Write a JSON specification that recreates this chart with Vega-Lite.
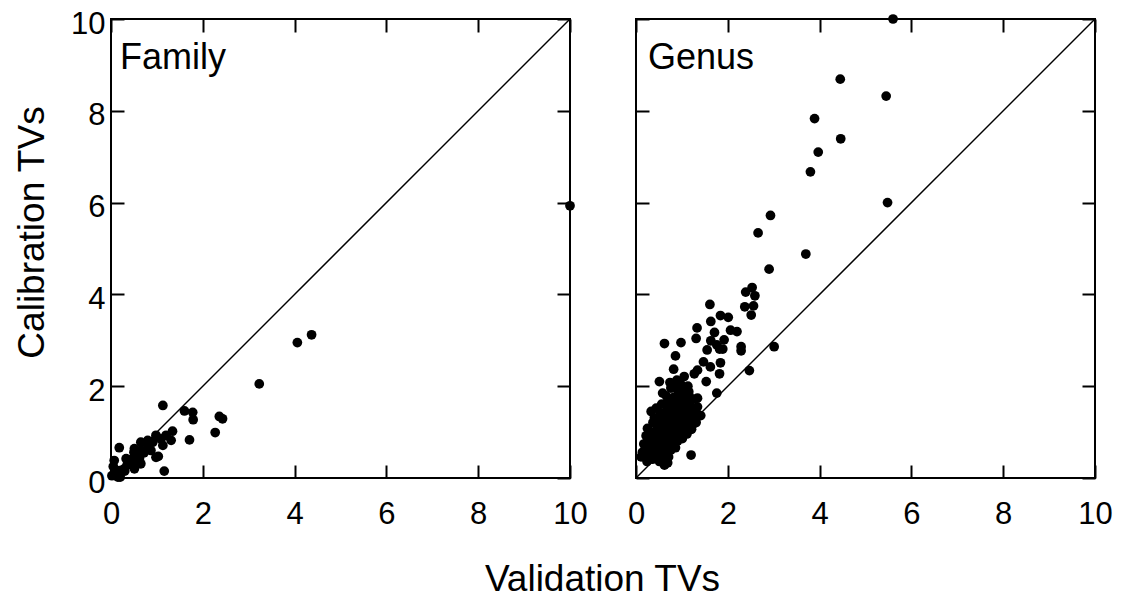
{
  "$schema": "https://vega.github.io/schema/vega-lite/v6.json",
  "autosize": {"type": "pad"},
  "padding": {"left": 12, "top": 7, "right": 0, "bottom": 0},
  "bounds": "flush",
  "spacing": 66,
  "background": "white",
  "config": {
    "font": "Liberation Sans",
    "view": {"stroke": "black", "strokeWidth": 2},
    "axis": {
      "grid": false,
      "domain": false,
      "ticks": true,
      "tickSize": -13,
      "tickWidth": 2,
      "tickColor": "black",
      "labelColor": "black",
      "labelFont": "Liberation Sans",
      "labelFontSize": 31,
      "labelFlush": false,
      "labelOverlap": false,
      "titleFont": "Liberation Sans",
      "titleFontSize": 37,
      "titleFontWeight": "normal",
      "titleColor": "black"
    }
  },
  "datasets": {
    "family": [
      {"validation": 0.02, "calibration": 0.05},
      {"validation": 0.05, "calibration": 0.25},
      {"validation": 0.07, "calibration": 0.38},
      {"validation": 0.2, "calibration": 0.02},
      {"validation": 0.18, "calibration": 0.16},
      {"validation": 0.11, "calibration": 0.16},
      {"validation": 0.15, "calibration": 0.02},
      {"validation": 0.18, "calibration": 0.66},
      {"validation": 0.29, "calibration": 0.2},
      {"validation": 0.3, "calibration": 0.15},
      {"validation": 0.33, "calibration": 0.42},
      {"validation": 0.35, "calibration": 0.28},
      {"validation": 0.44, "calibration": 0.31},
      {"validation": 0.47, "calibration": 0.42},
      {"validation": 0.5, "calibration": 0.56},
      {"validation": 0.51, "calibration": 0.2},
      {"validation": 0.51, "calibration": 0.64},
      {"validation": 0.58, "calibration": 0.31},
      {"validation": 0.62, "calibration": 0.42},
      {"validation": 0.62, "calibration": 0.5},
      {"validation": 0.65, "calibration": 0.31},
      {"validation": 0.65, "calibration": 0.6},
      {"validation": 0.65, "calibration": 0.78},
      {"validation": 0.72, "calibration": 0.55},
      {"validation": 0.8, "calibration": 0.71},
      {"validation": 0.8, "calibration": 0.82},
      {"validation": 0.87, "calibration": 0.6},
      {"validation": 0.91, "calibration": 0.78},
      {"validation": 0.98, "calibration": 0.45},
      {"validation": 0.98, "calibration": 0.93},
      {"validation": 1.03, "calibration": 0.47},
      {"validation": 1.09, "calibration": 0.85},
      {"validation": 1.13, "calibration": 0.71},
      {"validation": 1.16, "calibration": 0.15},
      {"validation": 1.13, "calibration": 1.58},
      {"validation": 1.2, "calibration": 0.93},
      {"validation": 1.31, "calibration": 0.82},
      {"validation": 1.34, "calibration": 1.02},
      {"validation": 1.6, "calibration": 1.46},
      {"validation": 1.71, "calibration": 0.83},
      {"validation": 1.78, "calibration": 1.43},
      {"validation": 1.79, "calibration": 1.27},
      {"validation": 2.27, "calibration": 0.99},
      {"validation": 2.36, "calibration": 1.34},
      {"validation": 2.43, "calibration": 1.29},
      {"validation": 3.23, "calibration": 2.05},
      {"validation": 4.06, "calibration": 2.95},
      {"validation": 4.37, "calibration": 3.12},
      {"validation": 10.0, "calibration": 5.93}
    ],
    "genus": [
      {"validation": 5.6, "calibration": 10.0},
      {"validation": 4.45, "calibration": 8.69},
      {"validation": 5.45, "calibration": 8.32},
      {"validation": 3.89, "calibration": 7.83},
      {"validation": 4.46, "calibration": 7.39},
      {"validation": 3.97, "calibration": 7.1},
      {"validation": 3.8, "calibration": 6.67},
      {"validation": 5.48, "calibration": 6.0},
      {"validation": 2.93, "calibration": 5.72},
      {"validation": 2.66, "calibration": 5.34},
      {"validation": 3.7, "calibration": 4.88},
      {"validation": 2.9, "calibration": 4.55},
      {"validation": 2.53, "calibration": 4.15},
      {"validation": 2.39, "calibration": 4.05},
      {"validation": 2.59, "calibration": 3.97},
      {"validation": 2.37, "calibration": 3.73},
      {"validation": 2.56, "calibration": 3.75},
      {"validation": 2.51, "calibration": 3.55},
      {"validation": 1.61, "calibration": 3.78},
      {"validation": 1.84, "calibration": 3.54},
      {"validation": 2.01, "calibration": 3.5},
      {"validation": 1.63, "calibration": 3.41},
      {"validation": 1.33, "calibration": 3.27},
      {"validation": 2.06, "calibration": 3.22},
      {"validation": 2.2, "calibration": 3.19},
      {"validation": 1.71, "calibration": 3.17},
      {"validation": 1.31, "calibration": 3.04},
      {"validation": 1.63, "calibration": 2.99},
      {"validation": 1.92, "calibration": 3.01},
      {"validation": 0.62, "calibration": 2.93},
      {"validation": 0.98, "calibration": 2.95},
      {"validation": 1.76, "calibration": 2.9},
      {"validation": 1.82, "calibration": 2.81},
      {"validation": 1.89, "calibration": 2.81},
      {"validation": 1.55, "calibration": 2.79},
      {"validation": 2.29, "calibration": 2.86},
      {"validation": 2.29, "calibration": 2.77},
      {"validation": 3.01, "calibration": 2.86},
      {"validation": 0.86, "calibration": 2.66},
      {"validation": 1.47, "calibration": 2.53},
      {"validation": 1.62, "calibration": 2.42},
      {"validation": 1.84, "calibration": 2.51},
      {"validation": 1.34, "calibration": 2.35},
      {"validation": 1.27, "calibration": 2.27},
      {"validation": 1.82, "calibration": 2.27},
      {"validation": 0.82, "calibration": 2.37},
      {"validation": 2.47, "calibration": 2.34},
      {"validation": 1.05, "calibration": 2.21},
      {"validation": 0.89, "calibration": 2.13},
      {"validation": 0.51, "calibration": 2.1},
      {"validation": 1.53, "calibration": 2.1},
      {"validation": 1.13, "calibration": 2.0},
      {"validation": 0.91, "calibration": 1.93},
      {"validation": 1.76, "calibration": 1.85},
      {"validation": 1.16, "calibration": 1.77},
      {"validation": 1.34, "calibration": 1.74},
      {"validation": 0.83, "calibration": 1.7},
      {"validation": 0.44, "calibration": 1.52},
      {"validation": 1.34, "calibration": 1.55},
      {"validation": 1.27, "calibration": 1.19},
      {"validation": 1.2, "calibration": 0.5},
      {"validation": 0.11, "calibration": 0.46},
      {"validation": 0.62, "calibration": 0.28},
      {"validation": 0.14, "calibration": 0.56},
      {"validation": 0.17, "calibration": 0.74},
      {"validation": 0.21, "calibration": 0.46},
      {"validation": 0.22, "calibration": 0.92},
      {"validation": 0.26, "calibration": 0.62},
      {"validation": 0.25, "calibration": 1.08},
      {"validation": 0.27, "calibration": 0.81},
      {"validation": 0.31, "calibration": 0.52},
      {"validation": 0.32, "calibration": 0.71},
      {"validation": 0.3, "calibration": 0.97},
      {"validation": 0.36, "calibration": 0.41},
      {"validation": 0.35, "calibration": 0.86},
      {"validation": 0.37, "calibration": 1.21},
      {"validation": 0.41, "calibration": 0.57},
      {"validation": 0.39, "calibration": 0.76},
      {"validation": 0.42, "calibration": 1.02},
      {"validation": 0.4, "calibration": 1.31},
      {"validation": 0.46, "calibration": 0.45},
      {"validation": 0.44, "calibration": 0.66},
      {"validation": 0.47, "calibration": 0.91},
      {"validation": 0.45, "calibration": 1.16},
      {"validation": 0.51, "calibration": 0.36},
      {"validation": 0.49, "calibration": 0.61},
      {"validation": 0.52, "calibration": 0.82},
      {"validation": 0.5, "calibration": 1.06},
      {"validation": 0.53, "calibration": 1.42},
      {"validation": 0.56, "calibration": 0.51},
      {"validation": 0.54, "calibration": 0.72},
      {"validation": 0.57, "calibration": 0.96},
      {"validation": 0.55, "calibration": 1.19},
      {"validation": 0.56, "calibration": 1.61},
      {"validation": 0.61, "calibration": 0.41},
      {"validation": 0.59, "calibration": 0.66},
      {"validation": 0.62, "calibration": 0.86},
      {"validation": 0.6, "calibration": 1.12},
      {"validation": 0.63, "calibration": 1.36},
      {"validation": 0.66, "calibration": 0.56},
      {"validation": 0.64, "calibration": 0.77},
      {"validation": 0.67, "calibration": 1.01},
      {"validation": 0.65, "calibration": 1.26},
      {"validation": 0.68, "calibration": 1.51},
      {"validation": 0.66, "calibration": 1.79},
      {"validation": 0.71, "calibration": 0.46},
      {"validation": 0.69, "calibration": 0.71},
      {"validation": 0.72, "calibration": 0.91},
      {"validation": 0.7, "calibration": 1.16},
      {"validation": 0.73, "calibration": 1.41},
      {"validation": 0.71, "calibration": 1.66},
      {"validation": 0.76, "calibration": 0.61},
      {"validation": 0.74, "calibration": 0.81},
      {"validation": 0.77, "calibration": 1.06},
      {"validation": 0.75, "calibration": 1.31},
      {"validation": 0.78, "calibration": 1.56},
      {"validation": 0.76, "calibration": 1.96},
      {"validation": 0.81, "calibration": 0.72},
      {"validation": 0.79, "calibration": 0.96},
      {"validation": 0.82, "calibration": 1.21},
      {"validation": 0.8, "calibration": 1.46},
      {"validation": 0.83, "calibration": 1.76},
      {"validation": 0.86, "calibration": 0.66},
      {"validation": 0.84, "calibration": 0.86},
      {"validation": 0.87, "calibration": 1.11},
      {"validation": 0.85, "calibration": 1.36},
      {"validation": 0.88, "calibration": 1.61},
      {"validation": 0.86, "calibration": 2.01},
      {"validation": 0.91, "calibration": 0.81},
      {"validation": 0.89, "calibration": 1.01},
      {"validation": 0.92, "calibration": 1.26},
      {"validation": 0.9, "calibration": 1.51},
      {"validation": 0.93, "calibration": 1.86},
      {"validation": 0.96, "calibration": 0.91},
      {"validation": 0.94, "calibration": 1.16},
      {"validation": 0.97, "calibration": 1.41},
      {"validation": 0.95, "calibration": 1.71},
      {"validation": 1.01, "calibration": 0.86},
      {"validation": 0.99, "calibration": 1.06},
      {"validation": 1.02, "calibration": 1.31},
      {"validation": 1.0, "calibration": 1.61},
      {"validation": 1.03, "calibration": 1.96},
      {"validation": 1.06, "calibration": 1.01},
      {"validation": 1.04, "calibration": 1.21},
      {"validation": 1.07, "calibration": 1.51},
      {"validation": 1.05, "calibration": 1.81},
      {"validation": 1.11, "calibration": 0.96},
      {"validation": 1.09, "calibration": 1.16},
      {"validation": 1.12, "calibration": 1.41},
      {"validation": 1.1, "calibration": 1.71},
      {"validation": 1.16, "calibration": 1.11},
      {"validation": 1.14, "calibration": 1.31},
      {"validation": 1.17, "calibration": 1.61},
      {"validation": 1.21, "calibration": 1.06},
      {"validation": 1.19, "calibration": 1.26},
      {"validation": 1.22, "calibration": 1.51},
      {"validation": 1.31, "calibration": 1.21},
      {"validation": 1.29, "calibration": 1.41},
      {"validation": 1.41, "calibration": 1.36},
      {"validation": 0.24, "calibration": 0.36},
      {"validation": 0.33, "calibration": 1.45},
      {"validation": 0.58, "calibration": 1.85},
      {"validation": 0.74, "calibration": 2.08},
      {"validation": 1.15, "calibration": 1.88},
      {"validation": 1.25, "calibration": 1.72},
      {"validation": 0.48, "calibration": 1.3},
      {"validation": 0.69, "calibration": 0.33},
      {"validation": 0.97, "calibration": 2.05}
    ],
    "diag": [
      {"x0": 0, "y0": 0, "x1": 10, "y1": 10}
    ]
  },
  "hconcat": [
    {
      "width": 459,
      "height": 459,
      "layer": [
        {
          "data": {"name": "family"},
          "mark": {"type": "circle", "size": 95, "color": "black", "opacity": 1},
          "encoding": {
            "x": {"field": "validation", "type": "quantitative", "scale": {"domain": [0, 10], "nice": false},
                  "axis": {"orient": "bottom", "values": [0, 2, 4, 6, 8, 10], "title": "Validation TVs", "titleX": 491, "titleY": 112, "titleBaseline": "alphabetic", "labelPadding": 34}},
            "y": {"field": "calibration", "type": "quantitative", "scale": {"domain": [0, 10], "nice": false},
                  "axis": {"orient": "left", "values": [0, 2, 4, 6, 8, 10], "title": "Calibration TVs", "titleX": -68, "titleY": 213, "titleBaseline": "alphabetic", "labelPadding": 19, "labelOffset": 5}}
          }
        },
        {
          "data": {"name": "diag"},
          "mark": {"type": "rule", "color": "black", "strokeWidth": 1.5},
          "encoding": {
            "x": {"field": "x0", "type": "quantitative", "axis": {"orient": "top", "labels": false, "title": null, "values": [0, 2, 4, 6, 8, 10]}},
            "y": {"field": "y0", "type": "quantitative", "axis": {"orient": "right", "labels": false, "title": null, "values": [0, 2, 4, 6, 8, 10]}},
            "x2": {"field": "x1"},
            "y2": {"field": "y1"}
          }
        },
        {
          "data": {"name": "diag"},
          "mark": {"type": "text", "align": "left", "baseline": "alphabetic", "dx": 9, "dy": 50, "fontSize": 36, "font": "Liberation Sans", "color": "black"},
          "encoding": {
            "x": {"datum": 0, "type": "quantitative", "axis": null},
            "y": {"datum": 10, "type": "quantitative", "axis": null},
            "text": {"value": "Family"}
          }
        }
      ],
      "resolve": {"axis": {"x": "independent", "y": "independent"}}
    },
    {
      "width": 459,
      "height": 459,
      "layer": [
        {
          "data": {"name": "genus"},
          "mark": {"type": "circle", "size": 95, "color": "black", "opacity": 1},
          "encoding": {
            "x": {"field": "validation", "type": "quantitative", "scale": {"domain": [0, 10], "nice": false},
                  "axis": {"orient": "bottom", "values": [0, 2, 4, 6, 8, 10], "title": null, "labelPadding": 34}},
            "y": {"field": "calibration", "type": "quantitative", "scale": {"domain": [0, 10], "nice": false},
                  "axis": {"orient": "left", "values": [0, 2, 4, 6, 8, 10], "title": null, "labels": false}}
          }
        },
        {
          "data": {"name": "diag"},
          "mark": {"type": "rule", "color": "black", "strokeWidth": 1.5},
          "encoding": {
            "x": {"field": "x0", "type": "quantitative", "axis": {"orient": "top", "labels": false, "title": null, "values": [0, 2, 4, 6, 8, 10]}},
            "y": {"field": "y0", "type": "quantitative", "axis": {"orient": "right", "labels": false, "title": null, "values": [0, 2, 4, 6, 8, 10]}},
            "x2": {"field": "x1"},
            "y2": {"field": "y1"}
          }
        },
        {
          "data": {"name": "diag"},
          "mark": {"type": "text", "align": "left", "baseline": "alphabetic", "dx": 12, "dy": 50, "fontSize": 36, "font": "Liberation Sans", "color": "black"},
          "encoding": {
            "x": {"datum": 0, "type": "quantitative", "axis": null},
            "y": {"datum": 10, "type": "quantitative", "axis": null},
            "text": {"value": "Genus"}
          }
        }
      ],
      "resolve": {"axis": {"x": "independent", "y": "independent"}}
    }
  ]
}
